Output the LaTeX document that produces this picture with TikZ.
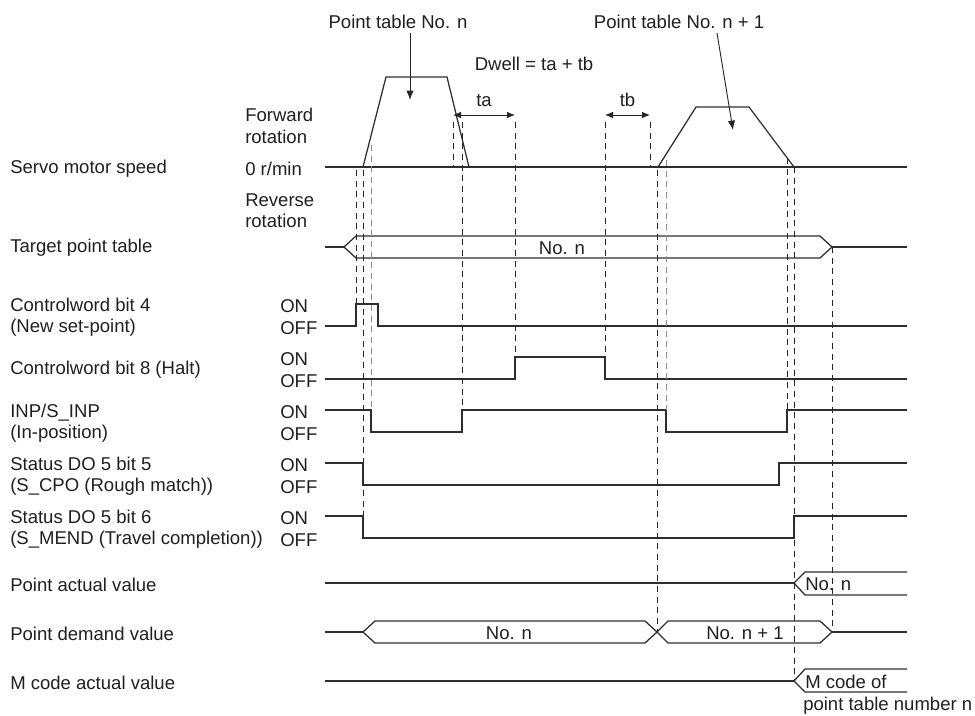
\documentclass[tikz,border=0pt]{standalone}
\usepackage{fontspec}
\setmainfont{Liberation Sans}
\usetikzlibrary{arrows.meta}

\tikzset{
  sig/.style={line width=0.95pt, draw=black!82, line join=miter},
  guide/.style={line width=0.7pt, draw=black!85, dash pattern=on 4.5pt off 3.5pt},
  guidegrey/.style={guide, draw=black!45},
  lbl/.style={anchor=west, inner sep=0pt, align=left, text=black!88,
    font=\fontsize{13.9}{16}\selectfont},
  mid/.style={lbl, anchor=center},
  ptr/.style={-{Latex[length=7pt,width=5.5pt]}, line width=0.7pt, draw=black!85},
  dim/.style={{Latex[length=6pt,width=5pt]}-{Latex[length=6pt,width=5pt]}, line width=0.7pt, draw=black!85}
}

\begin{document}
\begin{tikzpicture}[x=0.75pt, y=-0.75pt]
        \useasboundingbox (0,0) rectangle (975,715);

        % Signal names
        \node[lbl] (nspeed) at (10,169) {Servo motor speed};
        \node[lbl] (ntarget) at (10,248) {Target point table};
        \node[lbl] (ncw4) at (10,317) {Controlword bit 4\\(New set-point)};
        \node[lbl] (ncw8) at (10,370) {Controlword bit 8 (Halt)};
        \node[lbl] (ninp) at (10,423) {INP/S\_INP\\(In-position)};
        \node[lbl] (ncpo) at (10,476) {Status DO 5 bit 5\\(S\_CPO (Rough match))};
        \node[lbl] (nmend) at (10,529) {Status DO 5 bit 6\\(S\_MEND (Travel completion))};
        \node[lbl] (nactual) at (10,585) {Point actual value};
        \node[lbl] (ndemand) at (10,634) {Point demand value};
        \node[lbl] (nmcode) at (10,683) {M code actual value};

        % Speed axis and ON/OFF levels
        \node[lbl] (fwd) at (245,126) {Forward\\rotation};
        \node[lbl] (zero) at (245,169) {0 r/min};
        \node[lbl] (rev) at (245,211) {Reverse\\rotation};
        \node[lbl] (lvcw4) at (280,317) {ON\\OFF};
        \node[lbl] (lvcw8) at (280,370) {ON\\OFF};
        \node[lbl] (lvinp) at (280,423) {ON\\OFF};
        \node[lbl] (lvcpo) at (280,476) {ON\\OFF};
        \node[lbl] (lvmend) at (280,529) {ON\\OFF};

        % Servo motor speed
        \draw[sig] (325,167) -- (907,167);
        \draw[sig] (363,167) -- (386,77) -- (447,77) -- (469,167);
        \draw[sig] (658,167) -- (696,107) -- (749,107) -- (794,167);

        % Point table pointers
        \node[mid] (ptn) at (398,22) {Point table No. n};
        \node[mid] (ptn1) at (679,22) {Point table No. n + 1};
        \coordinate (tipn) at (410,100);
        \coordinate (tipn1) at (733,130);
        \draw[ptr] ([yshift=-3pt]ptn.south -| tipn) -- (tipn);
        \draw[ptr] ([yshift=-3pt,xshift=28.5pt]ptn1.south) -- (tipn1);

        % Dwell time
        \node[mid] (dwell) at (534,64) {Dwell = ta + tb};
        \coordinate (ta0) at (453,115);
        \coordinate (ta1) at (515,115);
        \coordinate (tb0) at (605,115);
        \coordinate (tb1) at (650,115);
        \draw[dim] (ta0) -- (ta1) node[mid, midway, above=6pt] (lta) {ta};
        \draw[dim] (tb0) -- (tb1) node[mid, midway, above=6pt] (ltb) {tb};

        % Target point table
        \draw[sig] (325,247) -- (344,247);
        \draw[sig] (344,247) -- (356,236) -- (820,236) -- (832,247) -- (820,258) -- (356,258) -- cycle;
        \draw[sig] (832,247) -- (907,247);
        \node[mid] (tgtn) at (562,248) {No. n};

        % Controlword bit 4
        \draw[sig] (325,326) -- (356,326) -- (356,304) -- (378,304) -- (378,326) -- (907,326);

        % Controlword bit 8
        \draw[sig] (325,379) -- (515,379) -- (515,357) -- (605,357) -- (605,379) -- (907,379);

        % INP/S_INP
        \draw[sig] (325,410) -- (371,410) -- (371,432) -- (462,432) -- (462,410) -- (666,410)
          -- (666,432) -- (787,432) -- (787,410) -- (907,410);

        % S_CPO
        \draw[sig] (325,463) -- (363,463) -- (363,485) -- (779,485) -- (779,463) -- (907,463);

        % S_MEND
        \draw[sig] (325,516) -- (363,516) -- (363,538) -- (794,538) -- (794,516) -- (907,516);

        % Point actual value
        \draw[sig] (325,583) -- (794,583);
        \draw[sig] (907,572) -- (805,572) -- (794,583) -- (805,595) -- (907,595);
        \node[lbl] (actn) at (805,584) {No. n};

        % Point demand value
        \draw[sig] (325,632) -- (363,632);
        \draw[sig] (363,632) -- (375,621) -- (645,621) -- (657,632) -- (645,643) -- (375,643) -- cycle;
        \draw[sig] (657,632) -- (668,621) -- (820,621) -- (832,632) -- (820,643) -- (668,643) -- cycle;
        \draw[sig] (832,632) -- (907,632);
        \node[mid] (demn) at (509,633) {No. n};
        \node[mid] (demn1) at (745,633) {No. n + 1};

        % M code actual value
        \draw[sig] (325,681) -- (794,681);
        \draw[sig] (907,669) -- (805,669) -- (794,681) -- (805,692) -- (907,692);
        \node[lbl] (mcn) at (805,682) {M code of};
        \node[lbl] (mcn2) at (803,706) {point table number n};

        % Timing guides
        \draw[guide] (356,170) -- (356,304);
        \draw[guide] (363,170) -- (363,516);
        \draw[guidegrey] (371,145) -- (371,410);
        \draw[guide] (453,122) -- (453,167);
        \draw[guide] (462,122) -- (462,410);
        \draw[guide] (515,122) -- (515,357);
        \draw[guide] (605,122) -- (605,357);
        \draw[guide] (650,122) -- (650,165);
        \draw[guide] (657,170) -- (657,632);
        \draw[guidegrey] (666,160) -- (666,410);
        \draw[guide] (787,158) -- (787,410);
        \draw[guide] (794,167) -- (794,681);
        \draw[guide] (832,247) -- (832,632);
    \end{tikzpicture}
\end{document}
